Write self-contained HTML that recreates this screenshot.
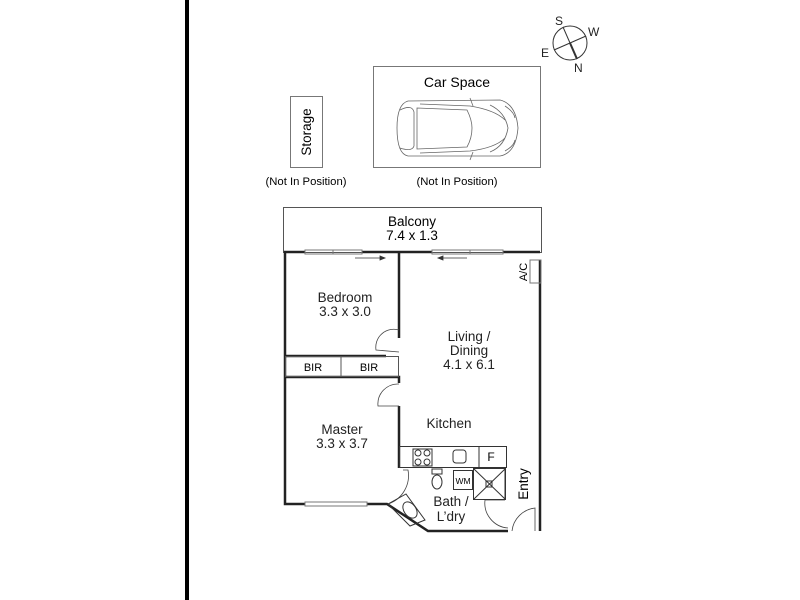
<!DOCTYPE html>
<html><head><meta charset="utf-8"><style>
html,body{margin:0;padding:0;background:#fff;}
svg{display:block;font-family:"Liberation Sans",Arial,sans-serif;}
</style></head><body>
<svg width="800" height="600" viewBox="0 0 800 600" xmlns="http://www.w3.org/2000/svg">
<rect x="185" y="0" width="4" height="600" fill="#000"/>
<g stroke="#333" fill="none" stroke-width="1">
<circle cx="570" cy="43" r="17"/>
<line x1="563" y1="27" x2="577" y2="59"/>
<line x1="554" y1="50" x2="586" y2="36"/>
<line x1="570" y1="43" x2="577" y2="59" stroke-width="2"/>
</g>
<g font-size="12" fill="#222">
<text x="555" y="25">S</text><text x="588" y="36">W</text>
<text x="541" y="57">E</text><text x="574" y="72">N</text>
</g>
<rect x="290.5" y="96.5" width="32" height="71" fill="none" stroke="#777"/>
<text transform="translate(311,132) rotate(-90)" text-anchor="middle" font-size="13.5">Storage</text>
<text x="306" y="185" text-anchor="middle" font-size="11.3">(Not In Position)</text>
<rect x="373.5" y="66.5" width="167" height="101" fill="none" stroke="#777"/>
<text x="457" y="87" text-anchor="middle" font-size="14">Car Space</text>
<text x="457" y="185" text-anchor="middle" font-size="11.3">(Not In Position)</text>
<g fill="none" stroke="#666" stroke-width="0.8">
<path d="M408,101 Q397,104 397,128 Q397,154 408,156 L500,156 Q516,153 518,128 Q516,104 500,100 Z"/>
<path d="M400,110 Q412,104 414,112 L414,146 Q412,152 400,148"/>
<path d="M417,108 L467,110 Q472,120 472,128 Q472,138 467,147 L417,149 Z"/>
<path d="M420,104 L470,106 Q495,110 505,120"/>
<path d="M420,153 L470,151 Q495,148 505,138"/>
<path d="M490,105 Q505,112 508,128 Q505,146 490,152"/>
<path d="M505,106 Q514,112 515,118"/><path d="M505,151 Q514,146 515,140"/>
<line x1="470" y1="98" x2="473" y2="106"/><line x1="470" y1="160" x2="473" y2="152"/>
</g>
<rect x="283.5" y="207.5" width="258" height="45" fill="none" stroke="#555"/>
<text x="412" y="226" text-anchor="middle" font-size="13.5">Balcony</text>
<text x="412" y="240" text-anchor="middle" font-size="13.5">7.4 x 1.3</text>
<g stroke="#222" stroke-width="2.5" fill="none">
<path d="M305,252 L285,252 L285,504 L305,504"/>
<path d="M367,504 L387,504 L428,531 L508,531"/>
<path d="M540,531 L540,260"/>
<path d="M362,252 L432,252"/><path d="M503,252 L540,252"/>
<path d="M399,252 L399,338"/><path d="M399,406 L399,468"/>
<path d="M386,356 L285,356"/><path d="M399,383 L399,377 L285,377"/>
</g>
<g stroke="#777" stroke-width="1" fill="none">
<rect x="305" y="250" width="57" height="4"/><line x1="333" y1="250" x2="333" y2="254"/>
<rect x="432" y="250" width="71" height="4"/><line x1="470" y1="250" x2="470" y2="254"/>
<rect x="305" y="502" width="62" height="4"/>
<rect x="530" y="260" width="11" height="23"/>
</g>
<g stroke="#333" stroke-width="0.8">
<line x1="355" y1="258" x2="385" y2="258"/><path d="M385,258 l-5,-2 v4z" fill="#333"/>
<line x1="438" y1="258" x2="467" y2="258"/><path d="M438,258 l5,-2 v4z" fill="#333"/>
</g>
<text transform="translate(527,272) rotate(-90)" text-anchor="middle" font-size="11">A/C</text>
<rect x="285.5" y="356.5" width="113" height="20" fill="none" stroke="#555"/>
<line x1="341" y1="356" x2="341" y2="377" stroke="#555"/>
<text x="313" y="371" text-anchor="middle" font-size="11">BIR</text>
<text x="369" y="371" text-anchor="middle" font-size="11">BIR</text>
<g stroke="#444" fill="none" stroke-width="0.8">
<path d="M399,330 A18,18 0 0 0 376,350 L399,352"/>
<path d="M399,384 A20,20 0 0 0 378,406 L399,406"/>
<path d="M403,470 L408,470 A30,30 0 0 1 388,504"/>
<path d="M485,500 L505,500 M485,500 A25,25 0 0 0 508,528"/>
<path d="M512,531 A26,26 0 0 1 535,508 L535,531"/>
</g>
<g stroke="#333" fill="none" stroke-width="1">
<rect x="399.5" y="446.5" width="107" height="21"/>
<line x1="479" y1="447" x2="479" y2="468"/>
<rect x="413" y="449" width="19" height="17"/>
<circle cx="418" cy="453" r="3"/><circle cx="427" cy="453" r="3"/>
<circle cx="418" cy="462" r="3"/><circle cx="427" cy="462" r="3"/>
<rect x="453" y="450" width="13" height="13" rx="3"/>
<rect x="453.5" y="470.5" width="19" height="19"/>
<rect x="473.5" y="468.5" width="32" height="31"/>
<line x1="474" y1="469" x2="505" y2="499"/><line x1="505" y1="469" x2="474" y2="499"/>
<rect x="486" y="481" width="6" height="6"/>
<rect x="432" y="469" width="10" height="5"/>
<ellipse cx="437" cy="482" rx="5" ry="7"/>
<path d="M388,504 L406,494 L425,520 L410,526 Z"/>
<ellipse cx="410" cy="510" rx="6" ry="9" transform="rotate(-35 410 510)"/>
<line x1="505" y1="469" x2="505" y2="500"/>
</g>
<text x="491" y="461" text-anchor="middle" font-size="12">F</text>
<text x="463" y="484" text-anchor="middle" font-size="8.5">WM</text>
<g font-size="13.5" text-anchor="middle" fill="#222">
<text x="345" y="302">Bedroom</text><text x="345" y="316">3.3 x 3.0</text>
<text x="469" y="341">Living /</text><text x="469" y="355">Dining</text><text x="469" y="369">4.1 x 6.1</text>
<text x="449" y="428">Kitchen</text>
<text x="342" y="434">Master</text><text x="342" y="448">3.3 x 3.7</text>
<text x="451" y="506">Bath /</text><text x="451" y="521">L’dry</text>
</g>
<text transform="translate(528,484) rotate(-90)" text-anchor="middle" font-size="13.5">Entry</text>
</svg>
</body></html>
